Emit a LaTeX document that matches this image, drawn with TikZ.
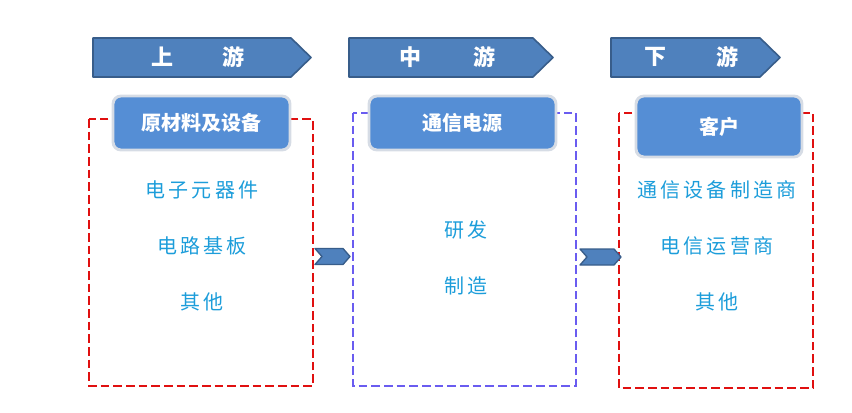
\documentclass[tikz,border=0pt]{standalone}
\usepackage{fontspec}
\newfontfamily\cjk{Noto Sans CJK SC}
\newfontfamily\cjksp[LetterSpace=16]{Noto Sans CJK SC}
\definecolor{bannerfill}{HTML}{4F81BD}
\definecolor{bannerdraw}{HTML}{385D8A}
\definecolor{headfill}{HTML}{558ED5}
\definecolor{headdraw}{HTML}{D6DCE5}
\definecolor{bodytext}{HTML}{1C9DDA}
\definecolor{redline}{HTML}{E01010}
\definecolor{blueline}{HTML}{6A5CF0}
\tikzset{
  banner/.style={fill=bannerfill, draw=bannerdraw, line width=1.2pt, line join=round},
  headbox/.style={fill=headfill, draw=headdraw, line width=2.2pt, rounded corners=6pt, text=white, font=\cjk\bfseries\fontsize{15}{17}\selectfont},
  bannertext/.style={text=white, font=\cjk\bfseries\fontsize{16.5}{18}\selectfont},
  bodylabel/.style={text=bodytext, font=\cjksp\fontsize{15}{17}\selectfont},
  frame/.style={dashed, line width=1.8pt, dash pattern=on 6.5pt off 3pt},
  chev/.style={fill=bannerfill, draw=bannerdraw, line width=1pt, line join=round}
}
\begin{document}
\begin{tikzpicture}[x=0.75pt,y=-0.75pt]
\useasboundingbox (0,0) rectangle (852,413);
% banners
\draw[banner] (93,38) -- (291,38) -- (311,57.5) -- (291,77) -- (93,77) -- cycle;
\draw[banner] (349,38) -- (533,38) -- (553,57.5) -- (533,77) -- (349,77) -- cycle;
\draw[banner] (611,38) -- (760,38) -- (780,57.5) -- (760,77) -- (611,77) -- cycle;
\node[bannertext] (b1a) at (162,57) {上};
\node[bannertext] (b1b) at (233,57) {游};
\node[bannertext] (b2a) at (410,57) {中};
\node[bannertext] (b2b) at (484,57) {游};
\node[bannertext] (b3a) at (655,57) {下};
\node[bannertext] (b3b) at (727,57) {游};
% dashed frames
\draw[frame, redline] (89,119) rectangle (313,386);
\draw[frame, blueline] (353,113) rectangle (576,386);
\draw[frame, redline] (619,113) rectangle (813,388);
% head boxes
\node[headbox, minimum width=132.75pt, minimum height=40.5pt] (h1) at (201.5,123) {原材料及设备};
\node[headbox, minimum width=140.25pt, minimum height=40.5pt] (h2) at (462.5,123) {通信电源};
\node[headbox, minimum width=124.5pt, minimum height=45.75pt] (h3) at (719,126.5) {客户};
% body labels
\node[bodylabel] (l1) at (202,190) {电子元器件};
\node[bodylabel] (l2) at (202,246) {电路基板};
\node[bodylabel] (l3) at (202,302) {其他};
\node[bodylabel] (m1) at (466,230) {研发};
\node[bodylabel] (m2) at (466,286) {制造};
\node[bodylabel] (r1) at (717,190) {通信设备制造商};
\node[bodylabel] (r2) at (717,246) {电信运营商};
\node[bodylabel] (r3) at (717,302) {其他};
% chevrons
\draw[chev] (315,248.5) -- (343,248.5) -- (350,256.5) -- (343,264.5) -- (315,264.5) -- (322,256.5) -- cycle;
\draw[chev] (580,249) -- (614,249) -- (621,257) -- (614,265) -- (580,265) -- (587,257) -- cycle;
\end{tikzpicture}
\end{document}
